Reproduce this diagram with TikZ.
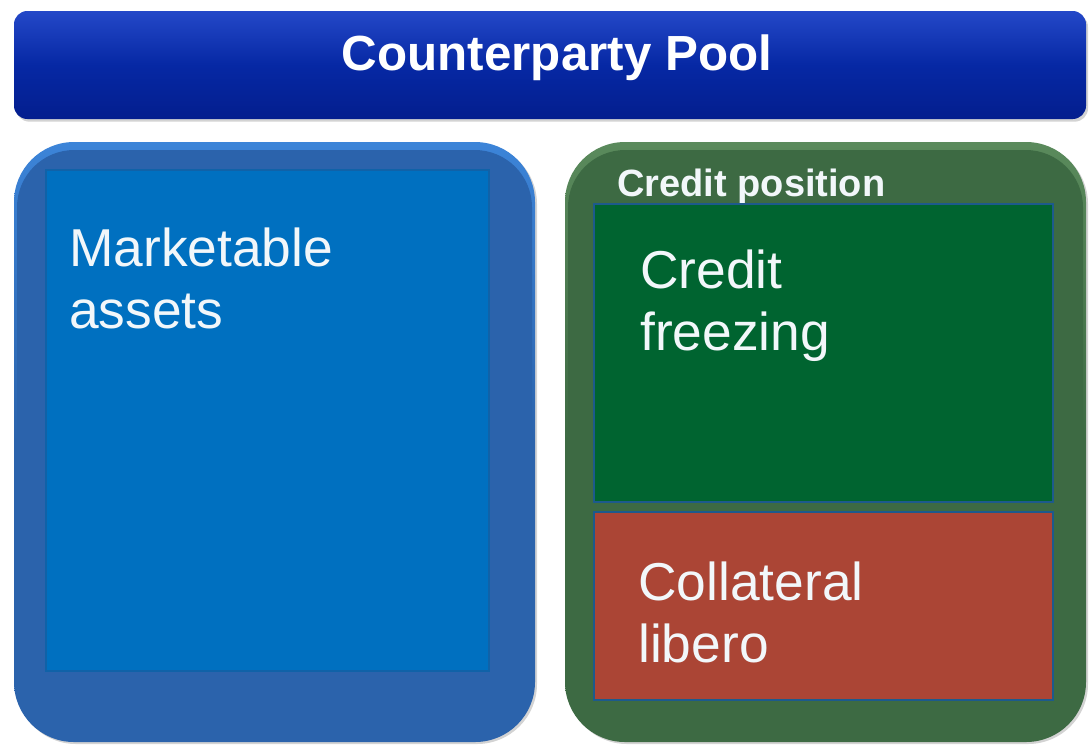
\documentclass[tikz,border=0pt]{standalone}
\usepackage{fontspec}
\setmainfont{Liberation Sans}
\usetikzlibrary{shadows}
\definecolor{barblue}{HTML}{0628A4}
\definecolor{bartop}{HTML}{2448C8}
\definecolor{barbot}{HTML}{041E8E}
\definecolor{leftouter}{HTML}{2B63AC}
\definecolor{lefttop}{HTML}{3C84D8}
\definecolor{leftinner}{HTML}{0070C0}
\definecolor{leftinnerline}{HTML}{1062A8}
\definecolor{rightouter}{HTML}{3D6A43}
\definecolor{righttop}{HTML}{5A8A5C}
\definecolor{greeninner}{HTML}{006430}
\definecolor{redinner}{HTML}{AB4535}
\definecolor{innerline}{HTML}{1D5A8C}
\definecolor{txtwhite}{HTML}{F2F7FA}
\tikzset{
  panel/.style={draw=none, minimum width=390.75pt, minimum height=450pt, rounded corners=45pt,
    drop shadow={opacity=0.35, shadow xshift=1.5pt, shadow yshift=-1.5pt}},
  innerbox/.style={draw=innerline, line width=0.8pt, inner sep=0pt},
  bigtext/.style={font=\fontsize{40}{46.5}\selectfont, text=txtwhite, align=left, inner sep=0pt, anchor=base west},
}
\begin{document}
\begin{tikzpicture}[x=0.75pt,y=-0.75pt]
\useasboundingbox (0,0) rectangle (1089,744);
% top bar
\node[draw=none, minimum width=804pt, minimum height=81pt, rounded corners=10pt,
  top color=bartop, bottom color=barbot, middle color=barblue,
  drop shadow={opacity=0.35, shadow xshift=1.5pt, shadow yshift=-2pt}] (bar) at (550,65) {};
\node[font=\bfseries\fontsize{37}{42}\selectfont, text=white, inner sep=0pt] (title) at (557,58) {Counterparty Pool};
% left panel
\node[panel, top color=lefttop, bottom color=leftouter, middle color=leftouter] (left) at (274.5,442) {};
\fill[leftouter, rounded corners=43pt] (17,150) rectangle (532,740);
\node[innerbox, draw=leftinnerline, fill=leftinner, minimum width=332.25pt, minimum height=375.75pt] (mkt) at (267.5,420.5) {};
\node[bigtext] (mkttext) at (69,328) {Marketable\\assets};
% right panel
\node[panel, top color=righttop, bottom color=rightouter, middle color=rightouter] (right) at (825.5,442) {};
\fill[rightouter, rounded corners=43pt] (568,150) rectangle (1083,740);
\node[font=\bfseries\fontsize{28.5}{32}\selectfont, text=txtwhite, inner sep=0pt, anchor=base west] (credpos) at (617,196) {Credit position};
\node[innerbox, fill=greeninner, minimum width=344.25pt, minimum height=223.5pt] (freeze) at (823.5,353) {};
\node[bigtext] (freezetext) at (640,350) {Credit\\freezing};
\node[innerbox, fill=redinner, minimum width=344.25pt, minimum height=141pt] (coll) at (823.5,606) {};
\node[bigtext] (colltext) at (638,662) {Collateral\\libero};
\end{tikzpicture}
\end{document}
